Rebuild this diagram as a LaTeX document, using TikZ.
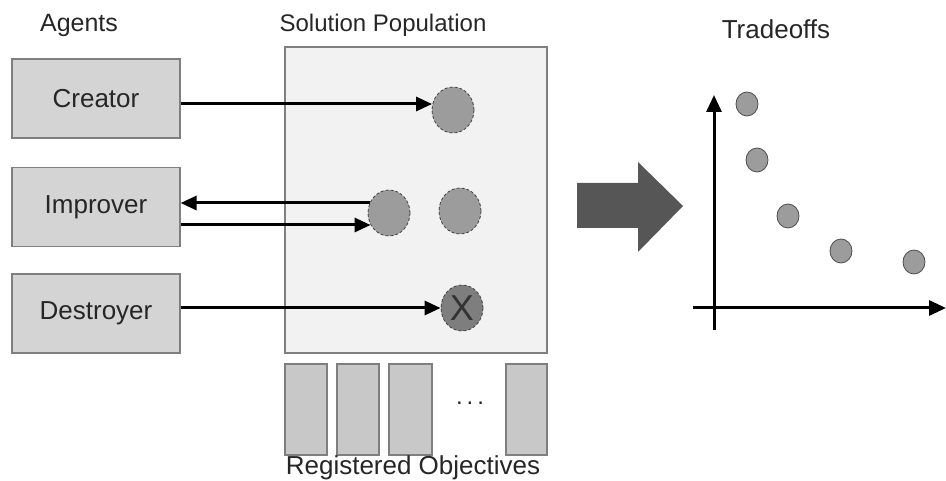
\documentclass[tikz,border=0pt]{standalone}
\usepackage{fontspec}
\setmainfont{Liberation Sans}
\usetikzlibrary{arrows.meta,shapes.geometric}
\definecolor{agentfill}{HTML}{D4D4D4}
\definecolor{boxedge}{HTML}{7F7F7F}
\definecolor{popfill}{HTML}{F2F2F2}
\definecolor{solfill}{HTML}{9C9C9C}
\definecolor{deadfill}{HTML}{7E7E7E}
\definecolor{barfill}{HTML}{C8C8C8}
\definecolor{bigarrow}{HTML}{565656}
\definecolor{txt}{HTML}{262626}
\tikzset{
  agent/.style={draw=boxedge, line width=1.2pt, fill=agentfill, minimum width=168pt, minimum height=79pt, inner sep=0pt, font=\fontsize{26}{28}\selectfont, text=txt},
  popbox/.style={draw=boxedge, line width=1.2pt, fill=popfill, minimum width=262pt, minimum height=306pt, inner sep=0pt},
  sol/.style={ellipse, draw=black!75, densely dashed, line width=0.8pt, fill=solfill, minimum width=42pt, minimum height=46pt, inner sep=0pt},
  pt/.style={ellipse, draw=black!70, line width=0.8pt, fill=solfill, minimum width=22pt, minimum height=24pt, inner sep=0pt},
  objbar/.style={draw=boxedge, line width=1.2pt, fill=barfill, minimum height=91pt, inner sep=0pt},
  title/.style={font=\fontsize{25}{28}\selectfont, text=txt, anchor=base, inner sep=0pt},
  conn/.style={line width=3pt, -{Triangle[length=16pt,width=14pt]}},
  axisline/.style={line width=3pt, -{Triangle[length=17pt,width=15pt]}}
}
\begin{document}
\begin{tikzpicture}[x=1pt,y=-1pt]
\useasboundingbox (0,0) rectangle (946,481);
% titles
\node[title] (tagents) at (79,32) {Agents};
\node[title, font=\fontsize{24}{28}\selectfont] (tpop) at (383,32) {Solution Population};
\node[title, font=\fontsize{26}{28}\selectfont] (ttrade) at (776,39) {Tradeoffs};
% agents
\node[agent] (creator) at (96,98.5) {Creator};
\node[agent] (improver) at (96,207) {Improver};
\node[agent] (destroyer) at (96,313.5) {Destroyer};
% population
\node[popbox] (pop) at (416,200) {};
\node[sol] (c1) at (453,110) {};
\node[sol] (c2) at (389,213) {};
\node[sol] (c3) at (460,211) {};
\node[sol, fill=deadfill, font=\fontsize{36}{36}\selectfont, text=black!80] (c4) at (462,308) {X};
% objectives
\node[objbar, minimum width=42pt] (o1) at (306,409.5) {};
\node[objbar, minimum width=42pt] (o2) at (358,409.5) {};
\node[objbar, minimum width=43pt] (o3) at (410.5,409.5) {};
\node[font=\fontsize{24}{24}\selectfont, text=txt] (odots) at (470,403) {.\,.\,.};
\node[objbar, minimum width=41pt] (o4) at (526.5,409.5) {};
\node[title, font=\fontsize{26}{28}\selectfont] (tobj) at (413,474.5) {Registered Objectives};
% connectors
\draw[conn] ([yshift=-5.5pt]creator.east) -- ([yshift=6pt,xshift=0.5pt]c1.west);
\draw[conn] ([yshift=10pt,xshift=2pt]c2.west) -- ([yshift=4pt]improver.east);
\draw[conn] ([yshift=-18pt]improver.east) -- ([yshift=-12pt,xshift=3pt]c2.west);
\draw[conn] ([yshift=5.5pt]destroyer.east) -- (c4.west);
% big arrow
\fill[bigarrow] (577,183) -- (638,183) -- (638,162) -- (683,206) -- (638,252) -- (638,228) -- (577,228) -- cycle;
% tradeoff plot
\coordinate (ybot) at (714,330);
\coordinate (ytop) at (714,95);
\coordinate (xleft) at (693,308);
\coordinate (xright) at (946,308);
\draw[axisline] (ybot) -- (ytop);
\draw[axisline] (xleft) -- (xright);
\node[pt] (p1) at (747,104) {};
\node[pt] (p2) at (757,160) {};
\node[pt] (p3) at (788,216) {};
\node[pt] (p4) at (841,251) {};
\node[pt] (p5) at (914,262) {};
\end{tikzpicture}
\end{document}
